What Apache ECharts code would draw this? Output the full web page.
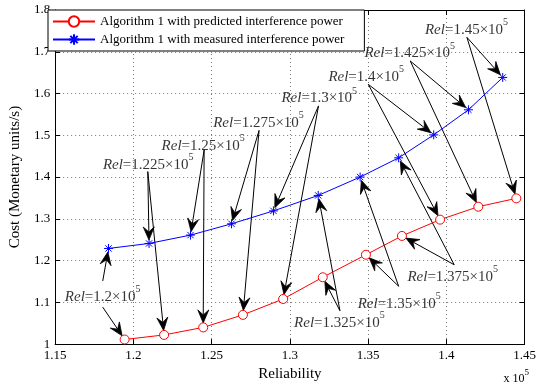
<!DOCTYPE html>
<html><head><meta charset="utf-8">
<script src="https://cdn.jsdelivr.net/npm/echarts@6/dist/echarts.min.js"></script>
<style>html,body{margin:0;padding:0;background:#fff}#c{width:539px;height:387px}</style>
</head><body><div id="c"></div>
<script>
// Reliability values in units of 10^5
const predRel = [1.1944,1.2196,1.2446,1.2700,1.2957,1.3210,1.3486,1.3716,1.3960,1.4204,1.4447];
const predCost = [1.011,1.022,1.040,1.070,1.108,1.160,1.214,1.259,1.298,1.329,1.349];
const measRel = [1.1841,1.2100,1.2365,1.2627,1.2895,1.3181,1.3449,1.3695,1.3919,1.4141,1.4360];
const measCost = [1.229,1.241,1.261,1.288,1.319,1.356,1.400,1.446,1.501,1.561,1.6385];
const seriesNames = ['Algorithm 1 with predicted interference power','Algorithm 1 with measured interference power'];

// Annotations (Rel = ... ×10^5)
const annoText = ['1.2','1.225','1.25','1.275','1.3','1.325','1.35','1.375','1.4','1.425','1.45'];
const annoLabelX = [1.1562,1.1805,1.2180,1.2510,1.2946,1.3027,1.3433,1.3751,1.3246,1.3476,1.3863];
const annoLabelY = [1.1197,1.4340,1.4810,1.5350,1.5940,1.0560,1.1030,1.1667,1.6455,1.7020,1.7580];
const arrowBlueFromX = [1.1804,1.2092,1.2452,1.2803,1.3183,1.3320,1.3695,1.4050,1.3501,1.3769,1.4131];
const arrowBlueFromY = [1.1510,1.4131,1.4648,1.5117,1.5704,1.0798,1.1385,1.1900,1.6220,1.6780,1.7347];
const arrowRedFromX  = [1.1804,1.2092,1.2452,1.2803,1.3183,1.3320,1.3695,1.4050,1.3501,1.3769,1.4131];
const arrowRedFromY  = [1.0885,1.4131,1.4648,1.5117,1.5704,1.0798,1.1385,1.1900,1.6220,1.6780,1.7347];

const xMin = 1.15, xMax = 1.45, xStep = 0.05;
const yMin = 1, yMax = 1.8, yStep = 0.1;

const FONT = 'Liberation Serif';
const chart = echarts.init(document.getElementById('c'));

const arrowData = [];
for (let k = 0; k < annoText.length; k++) {
  arrowData.push([arrowBlueFromX[k], arrowBlueFromY[k], measRel[k], measCost[k], 3.5]);
  arrowData.push([arrowRedFromX[k], arrowRedFromY[k], predRel[k], predCost[k], 4.5]);
}

const asterisk = 'path://M0,-5L0,5M-5,0L5,0M-3.5,-3.5L3.5,3.5M-3.5,3.5L3.5,-3.5';

const richLbl = {
  i: {fontFamily: FONT, fontSize: 15, fontStyle: 'italic', color: '#000', lineHeight: 20, verticalAlign: 'bottom'},
  n: {fontFamily: FONT, fontSize: 15, color: '#000', lineHeight: 20, verticalAlign: 'bottom'},
  s: {fontFamily: FONT, fontSize: 10, color: '#000', lineHeight: 20, verticalAlign: 'top'}
};

chart.setOption({
  animation: false,
  backgroundColor: '#fff',
  grid: {left: 48, right: 10, top: 10, bottom: 36, containLabel: false},
  legend: {
    left: 48, top: 10, orient: 'vertical',
    backgroundColor: '#fff', borderColor: '#000', borderWidth: 1,
    padding: [5, 20, 5, 4], itemGap: 5, itemWidth: 42, itemHeight: 13,
    textStyle: {fontFamily: FONT, fontSize: 13, color: '#000'},
    data: seriesNames
  },
  xAxis: [{
    type: 'value', min: xMin, max: xMax, interval: xStep,
    name: 'Reliability', nameLocation: 'middle', nameGap: 20,
    nameTextStyle: {fontFamily: FONT, fontSize: 15, color: '#000'},
    axisLine: {show: true, onZero: false, lineStyle: {color: '#000', width: 1}},
    axisTick: {show: true, inside: true, length: 5, lineStyle: {color: '#000'}},
    axisLabel: {fontFamily: FONT, fontSize: 13, color: '#000', margin: 5,
      formatter: v => String(+v.toFixed(2))},
    splitLine: {show: true, lineStyle: {color: '#777', type: [1, 3], width: 1}}
  }, {
    type: 'value', position: 'top', min: xMin, max: xMax, interval: xStep,
    axisLine: {show: true, onZero: false, lineStyle: {color: '#000', width: 1}},
    axisTick: {show: true, inside: true, length: 5, lineStyle: {color: '#000'}},
    axisLabel: {show: false}, splitLine: {show: false}
  }],
  yAxis: [{
    type: 'value', min: yMin, max: yMax, interval: yStep,
    name: 'Cost (Monetary units/s)', nameLocation: 'middle', nameGap: 28,
    nameTextStyle: {fontFamily: FONT, fontSize: 15, color: '#000'},
    axisLine: {show: true, onZero: false, lineStyle: {color: '#000', width: 1}},
    axisTick: {show: true, inside: true, length: 5, lineStyle: {color: '#000'}},
    axisLabel: {fontFamily: FONT, fontSize: 13, color: '#000', margin: 5,
      formatter: v => String(+v.toFixed(1))},
    splitLine: {show: true, lineStyle: {color: '#777', type: [1, 3], width: 1}}
  }, {
    type: 'value', position: 'right', min: yMin, max: yMax, interval: yStep,
    axisLine: {show: true, onZero: false, lineStyle: {color: '#000', width: 1}},
    axisTick: {show: true, inside: true, length: 5, lineStyle: {color: '#000'}},
    axisLabel: {show: false}, splitLine: {show: false}
  }],
  graphic: [{
    type: 'text', right: 10, bottom: 2,
    style: {text: '{a|x 10}{b|5}', rich: {
      a: {fontFamily: FONT, fontSize: 12, color: '#000', lineHeight: 17, verticalAlign: 'bottom'},
      b: {fontFamily: FONT, fontSize: 9, color: '#000', lineHeight: 17, verticalAlign: 'top'}
    }}
  }],
  series: [{
    type: 'custom', name: 'arrows', silent: true,
    encode: {x: [0, 2], y: [1, 3]},
    data: arrowData,
    renderItem: function (params, api) {
      const p1 = api.coord([api.value(0), api.value(1)]);
      const p2 = api.coord([api.value(2), api.value(3)]);
      const gap = api.value(4);
      const dx = p2[0] - p1[0], dy = p2[1] - p1[1];
      const len = Math.sqrt(dx * dx + dy * dy);
      const ux = dx / len, uy = dy / len;
      const tip = [p2[0] - ux * gap, p2[1] - uy * gap];
      const L = 13, W = 5.5, N = 8;
      const back = [tip[0] - ux * L, tip[1] - uy * L];
      const notch = [tip[0] - ux * N, tip[1] - uy * N];
      const px = -uy, py = ux;
      const w1 = [back[0] + px * W, back[1] + py * W];
      const w2 = [back[0] - px * W, back[1] - py * W];
      return {type: 'group', children: [
        {type: 'line', shape: {x1: p1[0], y1: p1[1], x2: notch[0], y2: notch[1]}, style: {stroke: '#000', lineWidth: 1}},
        {type: 'polygon', shape: {points: [tip, w1, notch, w2]}, style: {fill: '#000', stroke: '#000', lineWidth: 0.8}}
      ]};
    }
  }, {
    type: 'scatter', name: 'labels', silent: true, symbolSize: 0,
    data: annoLabelX.map((x, k) => [x, annoLabelY[k]]),
    label: {show: true, position: 'right', distance: 0,
      formatter: p => '{i|Rel}{n|=' + annoText[p.dataIndex] + '×10}{s|5}',
      rich: richLbl}
  }, {
    type: 'line', name: seriesNames[0],
    data: predRel.map((x, k) => [x, predCost[k]]),
    symbol: 'circle', symbolSize: 9, showAllSymbol: true,
    lineStyle: {color: '#ff0000', width: 1},
    itemStyle: {color: '#fff', borderColor: '#ff0000', borderWidth: 1},
    color: '#ff0000', z: 5
  }, {
    type: 'line', name: seriesNames[1],
    data: measRel.map((x, k) => [x, measCost[k]]),
    symbol: asterisk, symbolSize: 9, showAllSymbol: true,
    lineStyle: {color: '#0000ff', width: 1},
    itemStyle: {color: '#0000ff', borderColor: '#0000ff', borderWidth: 1},
    color: '#0000ff', z: 5
  }]
});
</script></body></html>
